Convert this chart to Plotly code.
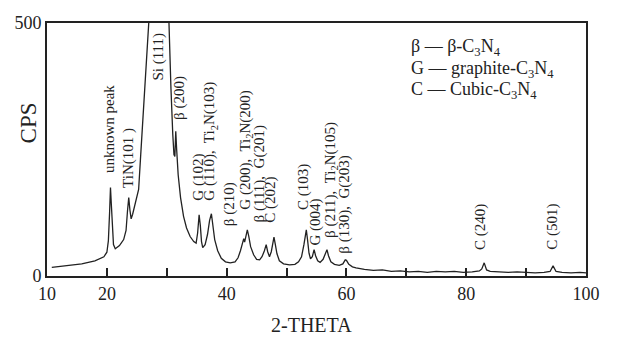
import plotly.graph_objects as go

# XRD pattern (2-theta in degrees, intensity in CPS)
two_theta = [10.8, 13.0, 15.8, 18.0, 19.5, 20.0, 20.25, 20.45, 20.6, 20.75, 20.9, 21.1, 21.4,
             22.1, 22.8, 23.2, 23.45, 23.65, 23.85, 24.05, 24.3, 24.8, 25.3, 25.6, 26.0, 26.5, 27.0,
             27.6, 28.2, 28.6, 29.0, 29.7, 30.3, 30.7, 31.0, 31.2, 31.35, 31.5, 31.65, 31.9, 32.3,
             32.8, 33.3, 33.9, 34.5, 34.9, 35.15, 35.4, 35.6, 35.8, 36.0, 36.4, 36.8, 37.15, 37.45,
             37.7, 38.0, 38.5, 39.1, 39.8, 40.6, 41.4, 41.9, 42.3, 42.7, 42.85, 43.0, 43.2, 43.45,
             43.7, 44.0, 44.5, 45.0, 45.5, 45.9, 46.3, 46.6, 46.85, 47.15, 47.45, 47.7, 47.9, 48.1,
             48.4, 48.8, 49.5, 50.5, 51.4, 52.0, 52.5, 52.9, 53.15, 53.3, 53.5, 53.75, 54.0, 54.3,
             54.6, 54.85, 55.2, 55.6, 56.1, 56.5, 56.75, 57.0, 57.4, 58.0, 58.8, 59.4, 59.8, 60.0,
             60.4, 61.0, 61.6, 63.0, 64.5, 66.0, 67.5, 69.0, 70.5, 72.0, 73.5, 75.0, 76.5, 78.0,
             79.5, 81.0, 82.2, 82.6, 83.0, 83.4, 84.0, 85.5, 87.0, 88.5, 90.0, 91.5, 93.0, 94.0,
             94.5, 95.0, 96.0, 97.5, 99.0, 100.0]
cps = [17, 20, 24, 30, 38, 47, 70, 125, 175, 140, 90, 62, 54,
       60, 72, 90, 130, 155, 130, 113, 122, 145, 171, 230, 310, 410, 502,
       750, 1100, 1200, 1100, 760, 502, 370, 280, 240, 236, 286, 250, 200, 155,
       118, 95, 78, 68, 65, 85, 121, 100, 68, 56, 62, 82, 110, 123,
       100, 72, 50, 35, 28, 26, 28, 36, 50, 72, 74, 67, 78, 91,
       78, 58, 42, 33, 32, 38, 50, 62, 48, 38, 48, 65, 77, 64,
       44, 30, 24, 22, 23, 28, 38, 62, 85, 91, 72, 45, 34, 38,
       52, 40, 30, 27, 33, 43, 52, 40, 28, 23, 21, 24, 32, 31,
       23, 18, 16, 13, 11, 12, 9, 10, 8, 9, 7, 9, 8, 9,
       7, 8, 10, 14, 26, 12, 9, 8, 7, 8, 7, 6, 7, 9,
       20, 9, 7, 6, 7, 6]

# Peak labels: text, x position (2-theta), bottom of rotated label (CPS)
peak_labels = ["unknown peak", "TiN(101 )", "Si (111)", "β (200)", "G (102)",
               "G (110),  Ti<sub>2</sub>N(103)", "β (210)", "G (200),  Ti<sub>2</sub>N(200)",
               "β (111),  G(201)", "C (202)", "C (103)", "G (004)",
               "β (211),  Ti<sub>2</sub>N(105)", "β (130),  G(203)", "C (240)", "C (501)"]
label_x = [20.4, 23.6, 28.6, 32.0, 35.3, 37.3, 40.6, 43.3, 45.4, 47.4, 52.8, 54.8, 57.4, 59.75, 82.5, 94.5]
label_y = [200, 171, 383, 304, 145, 145, 95, 127, 101, 101, 127, 56, 71, 40, 48, 48]

legend_lines = ["β — β-C<sub>3</sub>N<sub>4</sub>",
                "G — graphite-C<sub>3</sub>N<sub>4</sub>",
                "C — Cubic-C<sub>3</sub>N<sub>4</sub>"]

x_tickvals = [10, 20, 30, 40, 50, 60, 70, 80, 90, 100]
x_ticktext = ["10", "20", "", "40", "", "60", "", "80", "", "100"]
y_tickvals = [0, 500]
y_ticktext = ["0", "500"]

FONT = "Liberation Serif, Times New Roman, serif"
INK = "#222222"

fig = go.Figure()
fig.add_trace(go.Scatter(x=two_theta, y=cps, mode="lines",
                         line=dict(color=INK, width=1.3), hoverinfo="skip",
                         showlegend=False))

annotations = []
for t, xv, yv in zip(peak_labels, label_x, label_y):
    annotations.append(dict(x=xv, y=yv, xref="x", yref="y", text=t, textangle=-90,
                            showarrow=False, xanchor="center", yanchor="bottom",
                            font=dict(family=FONT, size=15, color=INK)))

legend_y = [452, 408, 366]
for t, yv in zip(legend_lines, legend_y):
    annotations.append(dict(x=70.4, y=yv, xref="x", yref="y", text=t, showarrow=False,
                            xanchor="left", yanchor="middle",
                            font=dict(family=FONT, size=18, color=INK)))

annotations.append(dict(x=0, y=0.603, xref="paper", yref="paper", xshift=-19, text="CPS",
                        textangle=-90, showarrow=False, xanchor="center", yanchor="middle",
                        font=dict(family=FONT, size=23, color=INK)))
annotations.append(dict(x=0.49, y=0, xref="paper", yref="paper", yshift=-49, text="2-THETA",
                        showarrow=False, xanchor="center", yanchor="middle",
                        font=dict(family=FONT, size=20, color=INK)))

# the page adds an 8px body margin, so the figure is 8px smaller and margins shifted
fig.update_layout(
    width=613, height=329,
    margin=dict(l=39, r=35, t=15, b=61),
    paper_bgcolor="white", plot_bgcolor="white",
    font=dict(family=FONT, color=INK),
    annotations=annotations,
    xaxis=dict(range=[10, 100], tickvals=x_tickvals, ticktext=x_ticktext,
               ticks="inside", ticklen=8, tickwidth=1.5, tickcolor=INK,
               showline=True, linecolor=INK, linewidth=2, mirror=True,
               showgrid=False, zeroline=False, automargin=False,
               tickfont=dict(family=FONT, size=18, color=INK)),
    yaxis=dict(range=[0, 500], tickvals=y_tickvals, ticktext=y_ticktext,
               ticks="", showline=True, linecolor=INK, linewidth=2, mirror=True,
               showgrid=False, zeroline=False, automargin=False,
               tickfont=dict(family=FONT, size=18, color=INK)),
)

fig.write_html("out.html")
